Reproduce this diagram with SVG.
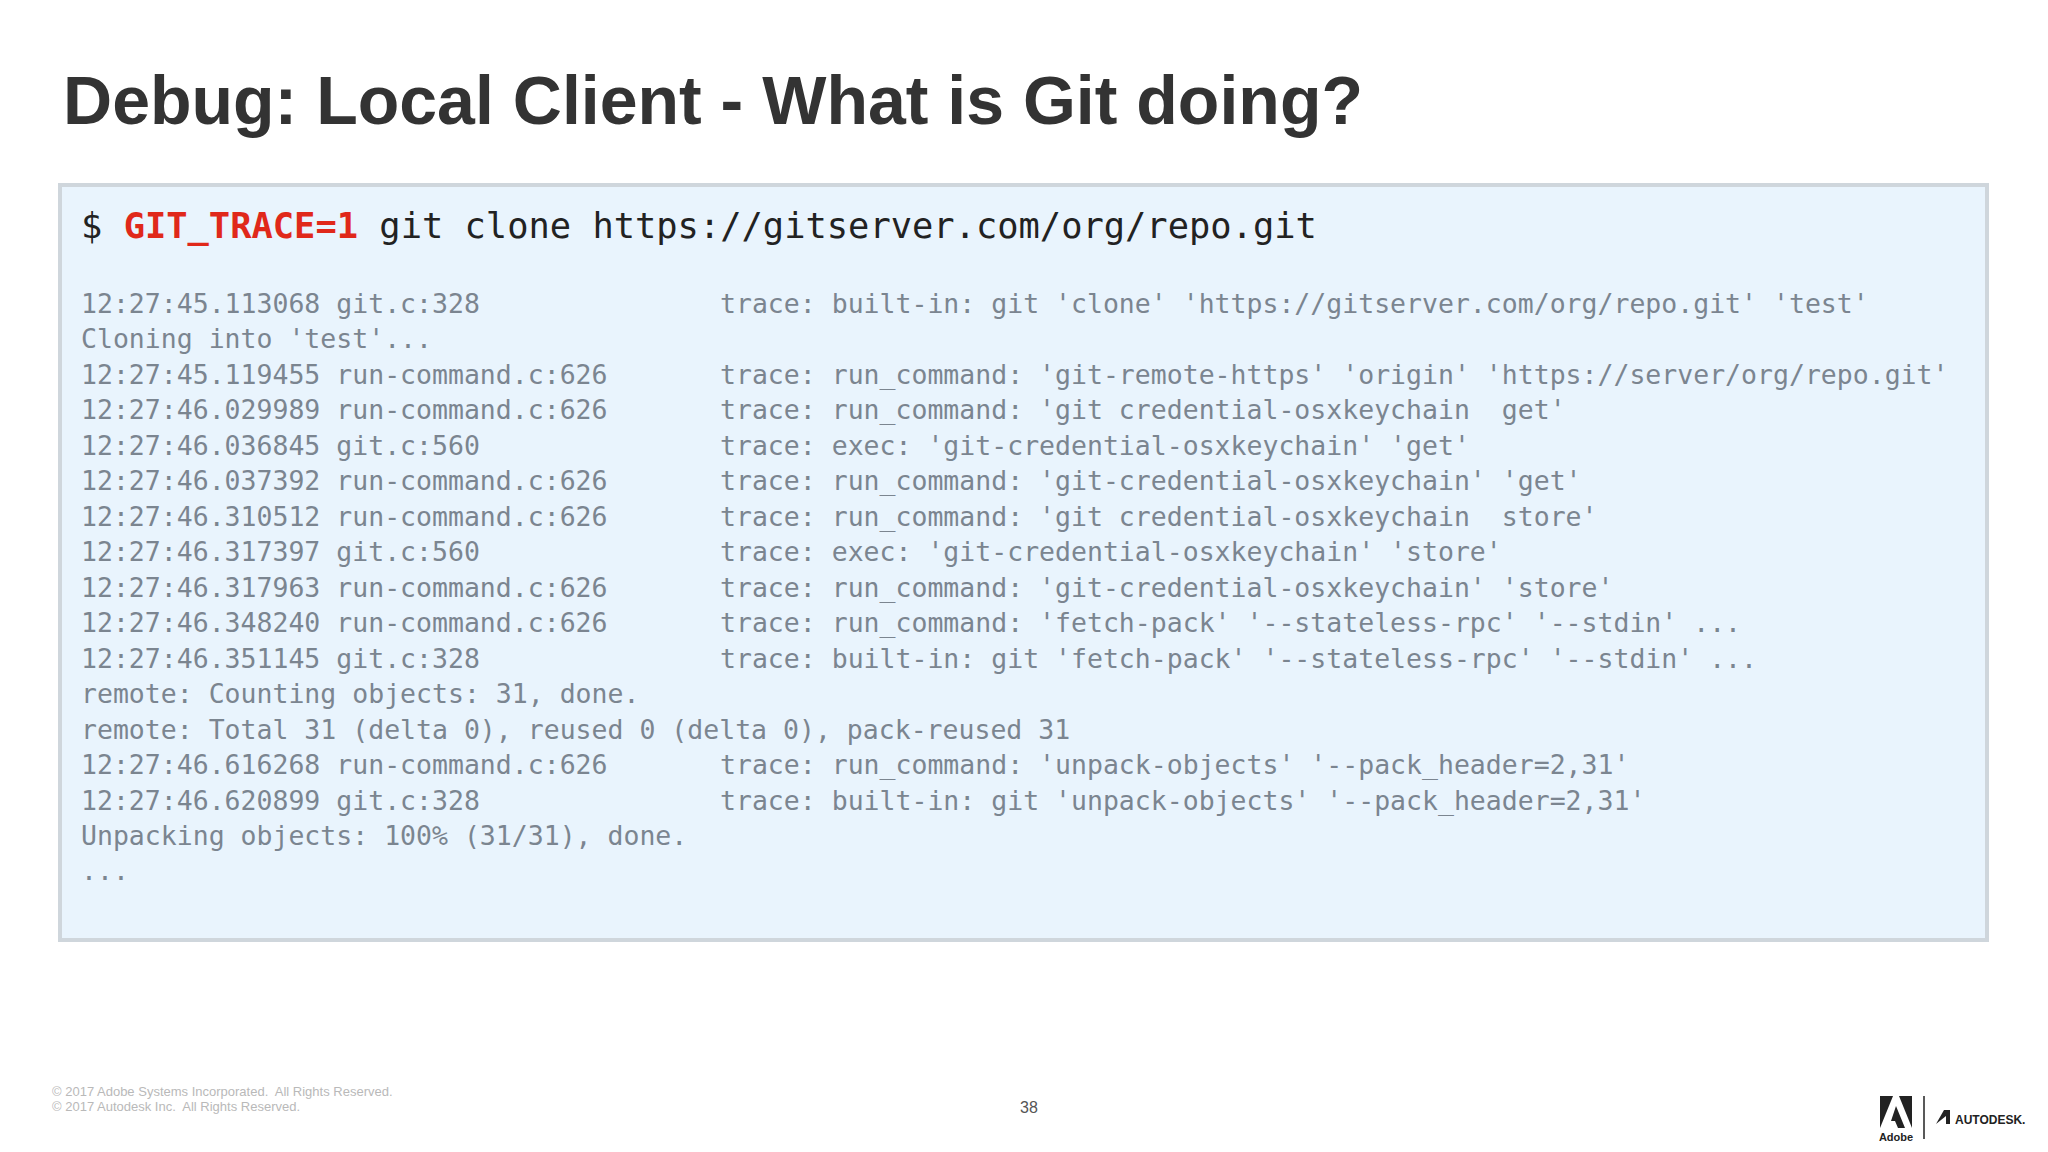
<svg xmlns="http://www.w3.org/2000/svg" width="2048" height="1152" viewBox="0 0 2048 1152">
<style>
.t{font-family:"DejaVu Sans Mono","Liberation Mono",monospace;font-size:26.5px;fill:#7b8590;white-space:pre}
.f{font-family:"Liberation Sans",Arial,sans-serif;font-size:13px;fill:#b9b9b9}
</style>
<rect width="2048" height="1152" fill="#fff"/>
<text x="63" y="124" font-family="Liberation Sans, Arial, sans-serif" font-weight="bold" font-size="68" fill="#333" textLength="1300" lengthAdjust="spacingAndGlyphs">Debug: Local Client - What is Git doing?</text>
<g id="terminal">
<rect x="60" y="185" width="1927" height="755" fill="#e9f4fd" stroke="#cfd6dc" stroke-width="4"/>
<text x="81" y="238" font-family="DejaVu Sans Mono, monospace" font-size="35.4" fill="#222" xml:space="preserve">$ <tspan fill="#e0281a" font-weight="bold">GIT_TRACE=1</tspan> git clone https://gitserver.com/org/repo.git</text>
<g class="t">
<text x="81" y="313">12:27:45.113068 git.c:328</text><text x="720" y="313">trace: built-in: git 'clone' 'https://gitserver.com/org/repo.git' 'test'</text>
<text x="81" y="348">Cloning into 'test'...</text>
<text x="81" y="384">12:27:45.119455 run-command.c:626</text><text x="720" y="384">trace: run_command: 'git-remote-https' 'origin' 'https://server/org/repo.git'</text>
<text x="81" y="419">12:27:46.029989 run-command.c:626</text><text x="720" y="419">trace: run_command: 'git credential-osxkeychain&#160;&#160;get'</text>
<text x="81" y="455">12:27:46.036845 git.c:560</text><text x="720" y="455">trace: exec: 'git-credential-osxkeychain' 'get'</text>
<text x="81" y="490">12:27:46.037392 run-command.c:626</text><text x="720" y="490">trace: run_command: 'git-credential-osxkeychain' 'get'</text>
<text x="81" y="526">12:27:46.310512 run-command.c:626</text><text x="720" y="526">trace: run_command: 'git credential-osxkeychain&#160;&#160;store'</text>
<text x="81" y="561">12:27:46.317397 git.c:560</text><text x="720" y="561">trace: exec: 'git-credential-osxkeychain' 'store'</text>
<text x="81" y="597">12:27:46.317963 run-command.c:626</text><text x="720" y="597">trace: run_command: 'git-credential-osxkeychain' 'store'</text>
<text x="81" y="632">12:27:46.348240 run-command.c:626</text><text x="720" y="632">trace: run_command: 'fetch-pack' '--stateless-rpc' '--stdin' ...</text>
<text x="81" y="668">12:27:46.351145 git.c:328</text><text x="720" y="668">trace: built-in: git 'fetch-pack' '--stateless-rpc' '--stdin' ...</text>
<text x="81" y="703">remote: Counting objects: 31, done.</text>
<text x="81" y="739">remote: Total 31 (delta 0), reused 0 (delta 0), pack-reused 31</text>
<text x="81" y="774">12:27:46.616268 run-command.c:626</text><text x="720" y="774">trace: run_command: 'unpack-objects' '--pack_header=2,31'</text>
<text x="81" y="810">12:27:46.620899 git.c:328</text><text x="720" y="810">trace: built-in: git 'unpack-objects' '--pack_header=2,31'</text>
<text x="81" y="845">Unpacking objects: 100% (31/31), done.</text>
<text x="81" y="880">...</text>
</g>
</g>
<text class="f" x="52" y="1096" xml:space="preserve">© 2017 Adobe Systems Incorporated.  All Rights Reserved.</text>
<text class="f" x="52" y="1111" xml:space="preserve">© 2017 Autodesk Inc.  All Rights Reserved.</text>
<text x="1029" y="1113" font-family="Liberation Sans, Arial, sans-serif" font-size="16" fill="#555" text-anchor="middle">38</text>
<g id="logos">
<polygon points="1880,1096 1893,1096 1880,1128" fill="#222"/>
<polygon points="1899,1096 1912,1096 1912,1128" fill="#222"/>
<polygon points="1896,1106 1905,1128 1898,1128 1895,1121 1891,1121" fill="#222"/>
<text x="1896" y="1141" font-family="Liberation Sans, Arial, sans-serif" font-weight="bold" font-size="11" fill="#222" text-anchor="middle">Adobe</text>
<line x1="1924" y1="1096" x2="1924" y2="1139" stroke="#222" stroke-width="1.5"/>
<polygon points="1936,1124 1944,1110 1950,1110 1950,1124 1946,1124 1946,1116" fill="#222"/>
<text x="1955" y="1124" font-family="Liberation Sans, Arial, sans-serif" font-weight="bold" font-size="12" fill="#222">AUTODESK.</text>
</g>
</svg>
